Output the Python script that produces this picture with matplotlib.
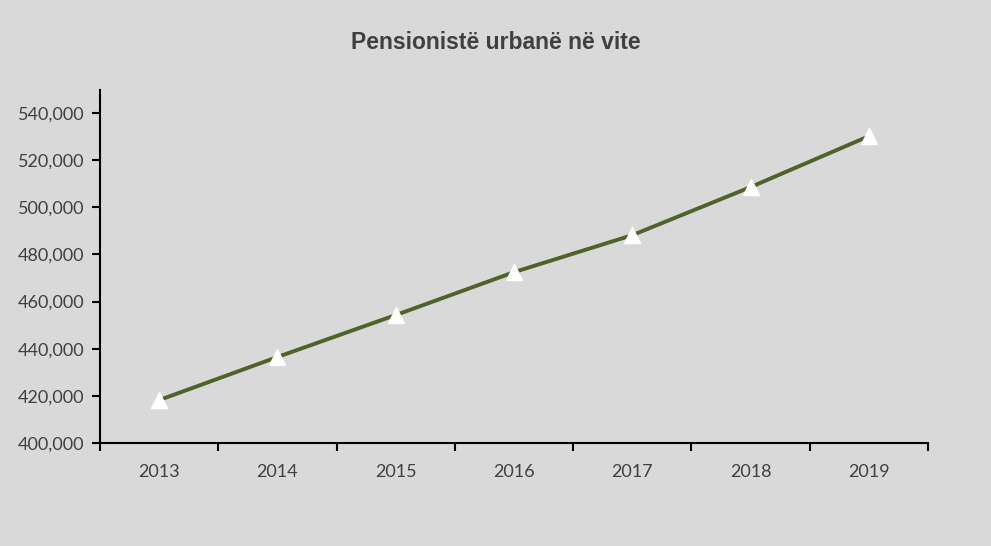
import matplotlib.pyplot as plt
from matplotlib.ticker import FuncFormatter, FixedLocator

years = ["2013", "2014", "2015", "2016", "2017", "2018", "2019"]
pensioners = [418200, 436500, 454300, 472500, 488200, 508600, 530200]

BG = "#d9d9d9"
TEXT = "#404040"
LINE = "#4f6228"

fig = plt.figure(figsize=(9.91, 5.46), dpi=100, facecolor=BG)
# plot area in pixels: left 100, right 928, bottom 443, top 90
ax = fig.add_axes([100 / 991, 1 - 443 / 546, 828 / 991, 353 / 546])
ax.set_facecolor(BG)

x = list(range(len(years)))
ax.plot(x, pensioners, color=LINE, linewidth=2.8, zorder=2)
ax.plot(x, pensioners, linestyle="none", marker="^", markersize=12,
        markerfacecolor="white", markeredgecolor="white", zorder=3)

ax.set_xlim(-0.5, len(years) - 0.5)
ax.set_ylim(400000, 549800)
ax.set_xticks(x)
ax.set_xticklabels(years)
ax.xaxis.set_minor_locator(FixedLocator([i - 0.5 for i in range(len(years) + 1)]))
ax.tick_params(axis="x", which="major", length=0, pad=15, labelsize=13, labelcolor=TEXT)
ax.tick_params(axis="x", which="minor", length=6, width=1.5, direction="out", color="black")
ax.set_yticks(range(400000, 540001, 20000))
ax.yaxis.set_major_formatter(FuncFormatter(lambda v, p: f"{int(v):,}"))
ax.tick_params(axis="y", length=6, width=1.5, direction="out", color="black",
               labelsize=13, labelcolor=TEXT, pad=5)
for lab in ax.get_xticklabels() + ax.get_yticklabels():
    lab.set_fontfamily(["Lato", "DejaVu Sans"])

for side in ["top", "right"]:
    ax.spines[side].set_visible(False)
ax.spines["left"].set_linewidth(1.5)
ax.spines["bottom"].set_linewidth(1.5)

fig.text(0.5, 1 - 43 / 546, "Pensionistë urbanë në vite", ha="center", va="center",
         fontsize=16.5, fontweight="bold", color=TEXT, family="Liberation Sans")

fig.savefig("out.png", dpi=100, facecolor=BG)
